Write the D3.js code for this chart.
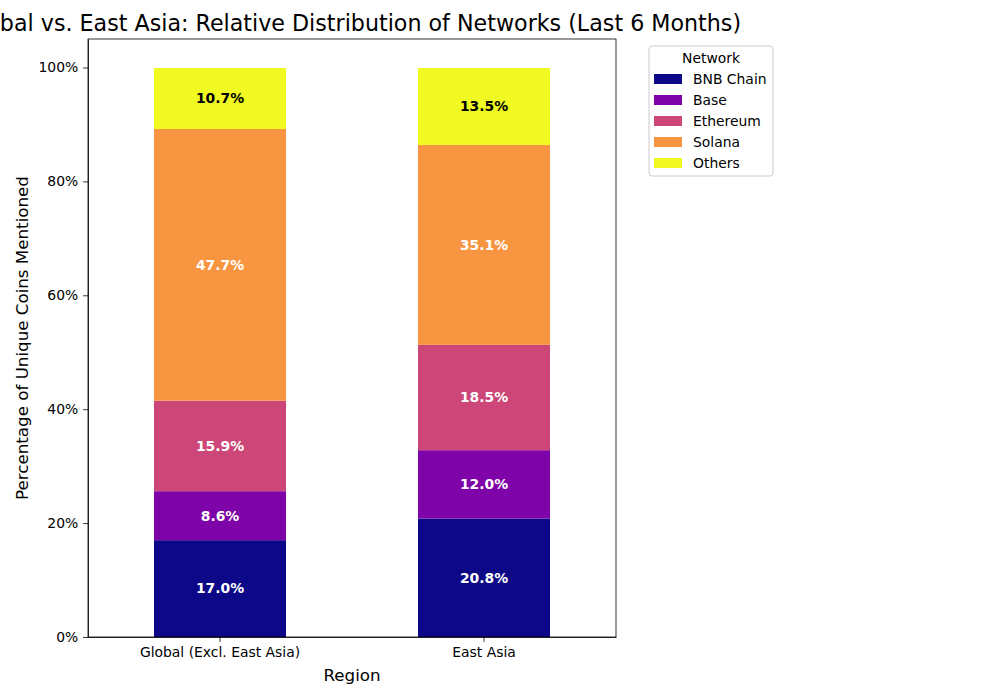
<!DOCTYPE html>
<html lang="en">
  <head>
    <meta charset="UTF-8" />
    <title>Networks by region</title>
    <script src="https://d3js.org/d3.v7.min.js"></script>
    <style>
      body { margin: 0; background: #fff; }
      svg { display: block; font-family: "DejaVu Sans", sans-serif; }
      .axis text { font-size: 13.9px; fill: #000; font-family: "DejaVu Sans", sans-serif; }
      .axis path, .axis line { stroke: #000; stroke-width: 0.8; }
    </style>
  </head>
  <body>
    <svg id="chart" width="1000" height="700"></svg>
    <script>
      // data
      const regions = ["Global (Excl. East Asia)", "East Asia"];
      const networks = ["BNB Chain", "Base", "Ethereum", "Solana", "Others"];
      const globalShare = [17.0, 8.6, 15.9, 47.7, 10.7];
      const eastAsiaShare = [20.8, 12.0, 18.5, 35.1, 13.5];
      const colors = ["#0d0887", "#7e03a8", "#cc4778", "#f89540", "#f0f921"];
      const yTicks = [0, 20, 40, 60, 80, 100];

      const width = 1000;
      const height = 700;
      const margin = { top: 39, right: 384, bottom: 63, left: 88 };

      const rows = regions.map((r, i) => {
        const vals = i === 0 ? globalShare : eastAsiaShare;
        const o = { region: r };
        networks.forEach((n, j) => (o[n] = vals[j]));
        return o;
      });
      const series = d3.stack().keys(networks)(rows);

      const x = d3
        .scaleBand()
        .domain(regions)
        .range([margin.left, width - margin.right])
        .paddingInner(0.5)
        .paddingOuter(0.25);

      const y = d3
        .scaleLinear()
        .domain([0, 105])
        .range([height - margin.bottom, margin.top]);

      const svg = d3.select("#chart");

      // bars
      svg
        .append("g")
        .selectAll("g")
        .data(series)
        .join("g")
        .attr("fill", (d, i) => colors[i])
        .selectAll("rect")
        .data((d) => d)
        .join("rect")
        .attr("x", (d) => x(d.data.region))
        .attr("y", (d) => y(d[1]))
        .attr("width", x.bandwidth())
        .attr("height", (d) => y(d[0]) - y(d[1]));

      // value labels
      svg
        .append("g")
        .selectAll("g")
        .data(series)
        .join("g")
        .attr("fill", (d, i) => (networks[i] === "Others" ? "#000" : "#fff"))
        .selectAll("text")
        .data((d) => d)
        .join("text")
        .attr("x", (d) => x(d.data.region) + x.bandwidth() / 2)
        .attr("y", (d) => y((d[0] + d[1]) / 2))
        .attr("dy", "0.35em")
        .attr("text-anchor", "middle")
        .attr("font-size", "13.9px")
        .attr("font-weight", "bold")
        .text((d) => (d[1] - d[0]).toFixed(1) + "%");

      // axes
      svg
        .append("g")
        .attr("class", "axis")
        .attr("transform", `translate(0,${height - margin.bottom})`)
        .call(d3.axisBottom(x).tickSize(4.9).tickPadding(4.9).tickSizeOuter(0));

      svg
        .append("g")
        .attr("class", "axis")
        .attr("transform", `translate(${margin.left},0)`)
        .call(
          d3
            .axisLeft(y)
            .tickValues(yTicks)
            .tickFormat((d) => d + "%")
            .tickSize(4.9)
            .tickPadding(4.9)
            .tickSizeOuter(0)
        );

      // frame
      svg
        .append("rect")
        .attr("x", margin.left)
        .attr("y", margin.top)
        .attr("width", width - margin.left - margin.right)
        .attr("height", height - margin.top - margin.bottom)
        .attr("fill", "none")
        .attr("stroke", "#000")
        .attr("stroke-width", 0.8);

      // titles
      const cx = (margin.left + width - margin.right) / 2;
      svg
        .append("text")
        .attr("x", cx)
        .attr("y", 31)
        .attr("text-anchor", "middle")
        .attr("font-size", "22.2px")
        .text("Global vs. East Asia: Relative Distribution of Networks (Last 6 Months)");

      svg
        .append("text")
        .attr("x", cx)
        .attr("y", 681)
        .attr("text-anchor", "middle")
        .attr("font-size", "16.7px")
        .text("Region");

      svg
        .append("text")
        .attr("transform", `translate(28,${(margin.top + height - margin.bottom) / 2}) rotate(-90)`)
        .attr("text-anchor", "middle")
        .attr("font-size", "16.7px")
        .text("Percentage of Unique Coins Mentioned");

      // legend
      const legend = svg.append("g").attr("transform", "translate(649,46)");
      legend
        .append("rect")
        .attr("width", 124)
        .attr("height", 130)
        .attr("rx", 3)
        .attr("fill", "#fff")
        .attr("stroke", "#ccc")
        .attr("stroke-width", 1);
      legend
        .append("text")
        .attr("x", 62)
        .attr("y", 17)
        .attr("text-anchor", "middle")
        .attr("font-size", "13.9px")
        .text("Network");
      const item = legend
        .selectAll("g.item")
        .data(networks)
        .join("g")
        .attr("class", "item")
        .attr("transform", (d, i) => `translate(5,${28 + i * 21})`);
      item
        .append("rect")
        .attr("width", 28)
        .attr("height", 10)
        .attr("fill", (d, i) => colors[i]);
      item
        .append("text")
        .attr("x", 39)
        .attr("y", 5)
        .attr("dy", "0.35em")
        .attr("font-size", "13.9px")
        .text((d) => d);
    </script>
  </body>
</html>
